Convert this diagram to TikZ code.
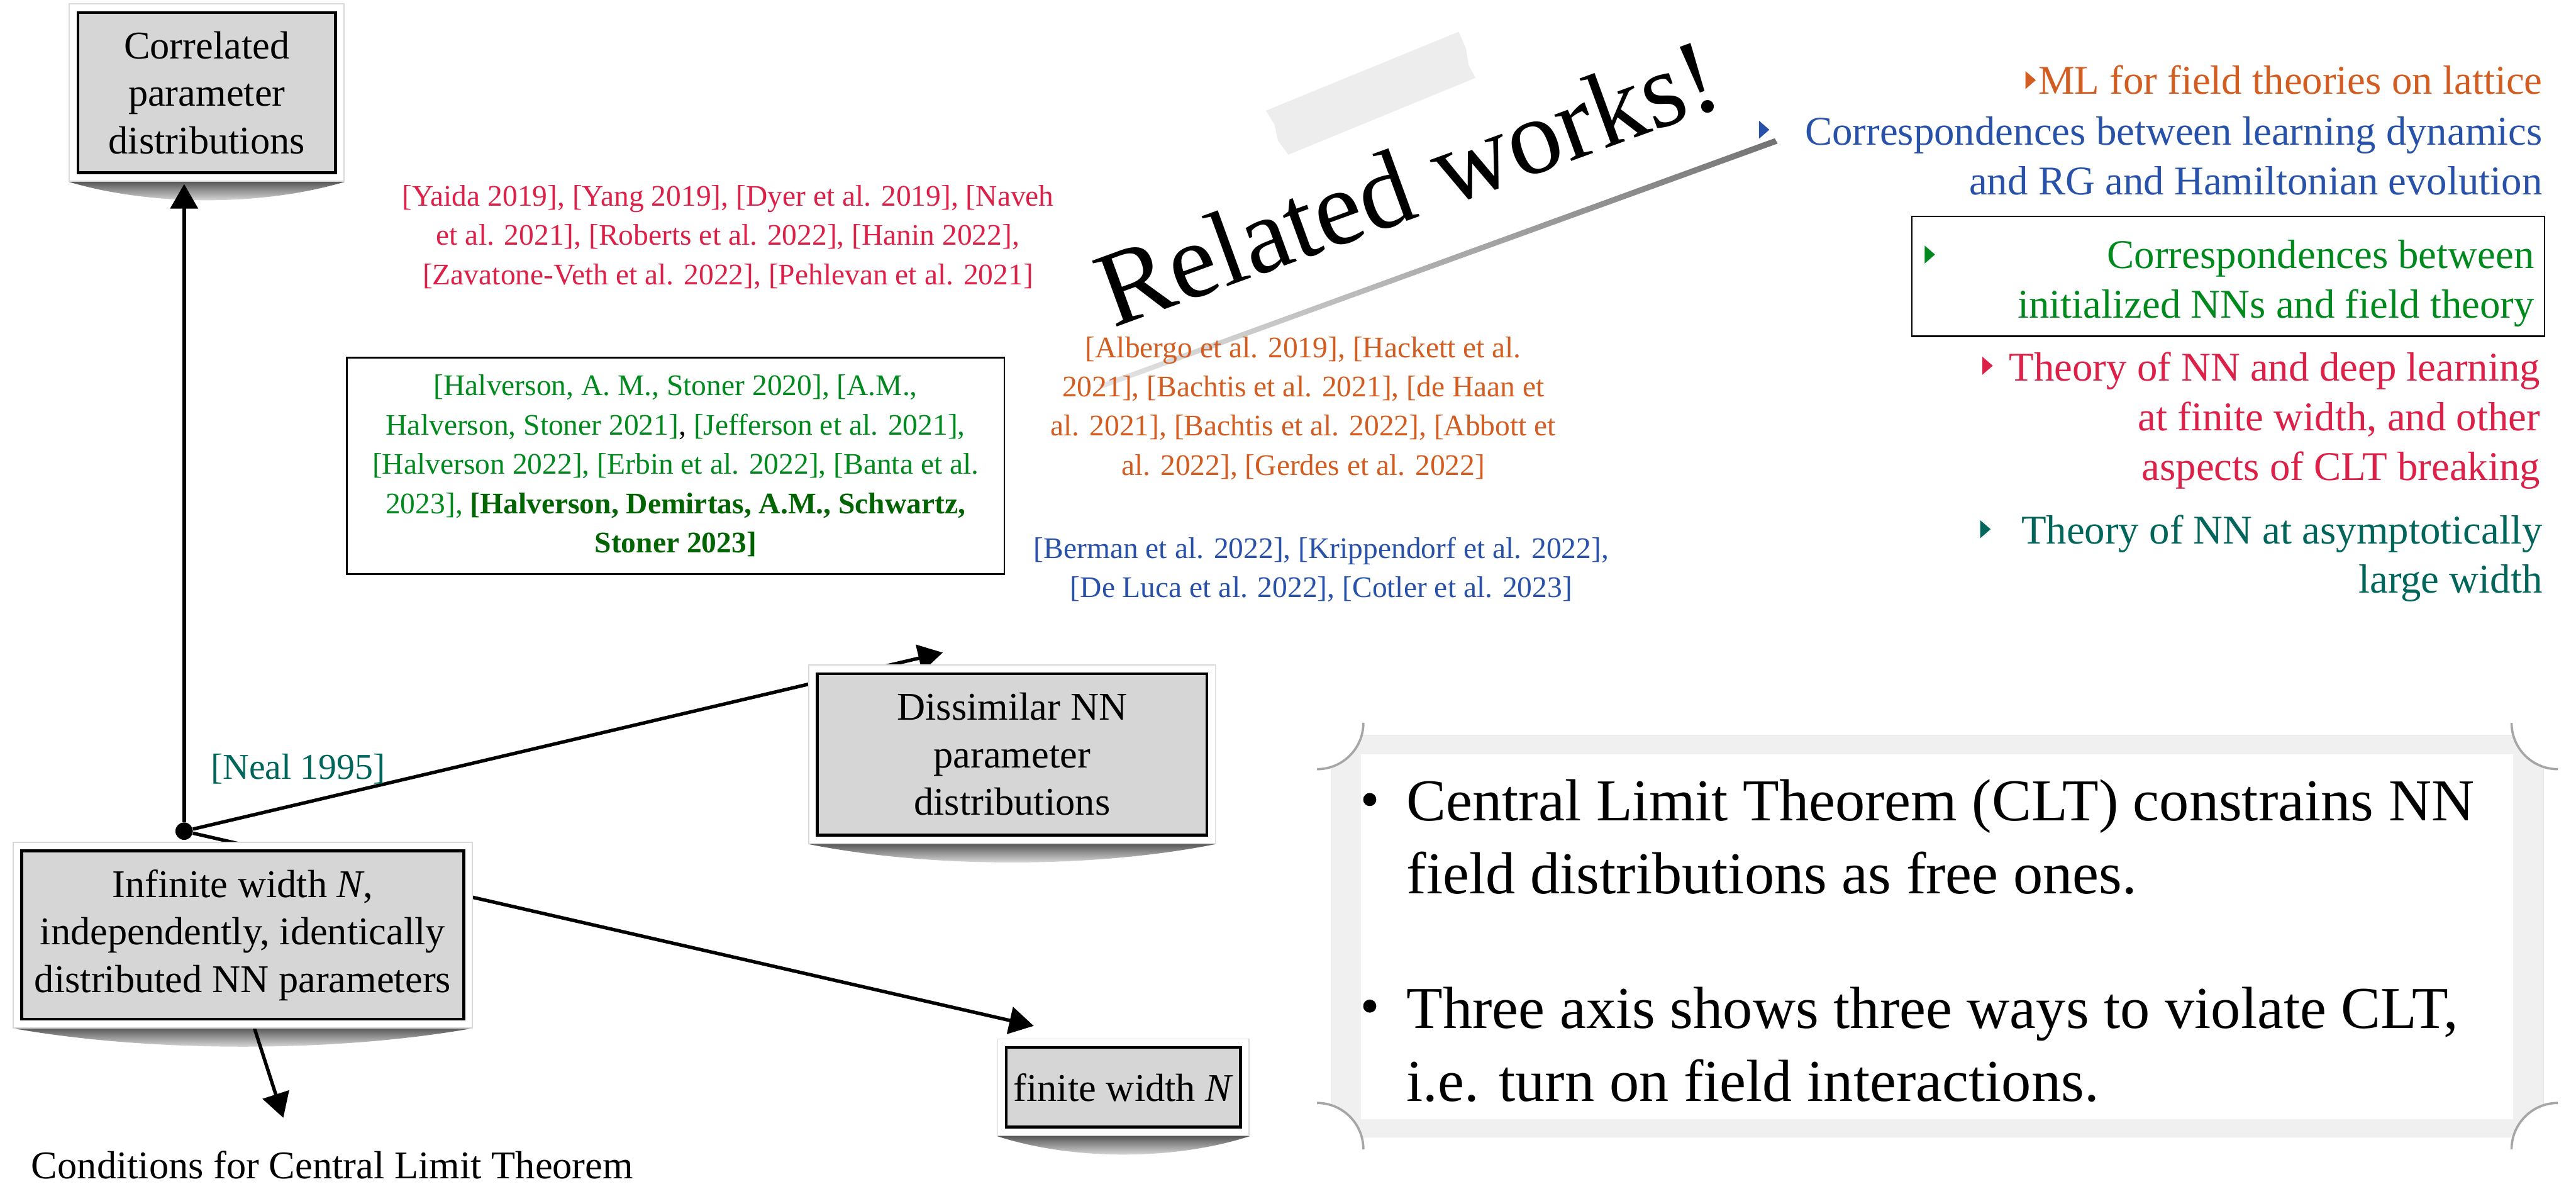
\documentclass[tikz,border=0pt]{standalone}
\usepackage{fontspec}
\setmainfont{Liberation Serif}
\usepackage{tikz}
\usetikzlibrary{arrows.meta,shapes.geometric,positioning,fit,calc}
\usepackage{xcolor}
\definecolor{rwred}{RGB}{221,32,72}
\definecolor{rworange}{RGB}{211,92,32}
\definecolor{rwblue}{RGB}{40,82,170}
\definecolor{rwgreen}{RGB}{0,138,30}
\definecolor{rwdkgreen}{RGB}{0,100,0}
\definecolor{rwteal}{RGB}{0,102,92}
\definecolor{cardgray}{RGB}{214,214,214}
\definecolor{notegray}{RGB}{240,240,240}
\newcommand\rwcard{\fontsize{20.5}{24.8}\selectfont}
\newcommand\rwcite{\fontsize{15.6}{20.5}\selectfont}
\newcommand\rwitem{\fontsize{21.3}{25.9}\selectfont}
\newcommand\rwnote{\fontsize{31}{38.1}\selectfont}
\newcommand\rwneal{\fontsize{19}{23}\selectfont}
\newcommand\rwbig{\fontsize{56}{60}\selectfont}
\tikzstyle{cardbox} = [rectangle, draw=black, line width=1.5pt, fill=cardgray, align=center, inner sep=0pt, font=\rwcard]
\tikzstyle{cardframe} = [rectangle, fill=white, draw=black!15, line width=0.6pt, inner sep=0.13cm]
\tikzstyle{sketch} = [line width=1.8pt, -{Triangle[length=0.45cm, width=0.5cm]}]
\tikzstyle{citeblock} = [align=center, inner sep=0pt, font=\rwcite]
\tikzstyle{listitem} = [align=right, inner sep=0pt, font=\rwitem, anchor=north east]
\tikzstyle{bulletmark} = [isosceles triangle, isosceles triangle stretches, minimum width=0.33cm, minimum height=0.19cm, inner sep=0pt]
\pgfdeclarelayer{shadow}
\pgfdeclarelayer{lines}
\pgfdeclarelayer{frame}
\pgfsetlayers{shadow,lines,frame,main}

\begin{document}
\begin{tikzpicture}
\path[use as bounding box] (0,0) rectangle (47.28,-21.81);
\begin{pgfonlayer}{shadow}
\fill[white] (0,0) rectangle (47.28,-21.81);
\end{pgfonlayer}

% Parameter cards
\node (corr) [cardbox, minimum width=4.73cm, minimum height=2.94cm] at (3.795,-1.70) {Correlated\\parameter\\distributions};
\node (dissim) [cardbox, minimum width=7.15cm, minimum height=2.96cm] at (18.575,-13.84) {Dissimilar NN\\parameter\\distributions};
\node (inf) [cardbox, minimum width=8.11cm, minimum height=3.09cm] at (4.455,-17.155) {Infinite width \textit{N},\\independently, identically\\distributed NN parameters};
\node (finite) [cardbox, minimum width=4.30cm, minimum height=1.46cm] at (20.62,-19.95) {finite width \textit{N}};

% white mounts and curled shadows
\foreach \c in {corr,dissim,inf,finite}{
  \begin{pgfonlayer}{frame}
    \node (\c-f) [cardframe, fit=(\c)] {};
  \end{pgfonlayer}
  \begin{pgfonlayer}{shadow}
    \shade[top color=black!65, bottom color=white] (\c-f.south west) .. controls ($(\c-f.south west)!0.3!(\c-f.south east)+(0,-0.45)$) and ($(\c-f.south west)!0.7!(\c-f.south east)+(0,-0.45)$) .. (\c-f.south east) -- cycle;
  \end{pgfonlayer}
}

% Conditions
\node (clt) [anchor=base west, inner sep=0pt, font=\rwcard] at (0.57,-21.63) {Conditions for Central Limit Theorem};
\coordinate (cltend) at (5.20,-20.51);

% Axes from the iid point
\begin{pgfonlayer}{lines}
\node (root) [circle, fill=black, inner sep=0pt, minimum size=0.32cm] at (3.38,-15.25) {};
\draw[sketch] (root) -- ($(root |- corr.south)+(0,-0.18)$);
\draw[sketch] (root) -- ([xshift=2.33cm, yshift=0.36cm]dissim.north west);
\draw[sketch] (root) -- ([xshift=0.53cm, yshift=0.37cm]finite.north west);
\draw[sketch] ([xshift=0.17cm]inf.south) -- (cltend);

% Related works label, taped on
\begin{scope}[shift={(20.43,-6.02)}, rotate=20]
\fill[white] (-0.66,-0.88) rectangle (12.6,2.4);
\shade[top color=black!55, bottom color=black!10] (-0.6,-0.88) -- (12.6,-0.88) -- (12.62,-0.99) -- (-0.58,-0.97) -- cycle;
\fill[black!7] (4.0,2.79) -- (4.06,2.5) -- (4.02,2.2) -- (4.11,1.89) -- (7.82,2.04) -- (7.78,2.3) -- (7.84,2.6) -- (7.82,2.94) -- cycle;
\end{scope}
\end{pgfonlayer}
\node (rw) [rotate=20, anchor=base west, inner sep=0pt, font=\rwbig] at (20.43,-6.02) {Related works!};

\node (neal) [anchor=base west, inner sep=0pt, font=\rwneal, text=rwteal] at (3.86,-14.30) {[Neal 1995]};

% Citation blocks
\node (finitecite) [citeblock, anchor=north, text=rwred] at (13.36,-3.39) {[Yaida 2019], [Yang 2019], [Dyer et al. 2019], [Naveh\\et al. 2021], [Roberts et al. 2022], [Hanin 2022],\\{}[Zavatone-Veth et al. 2022], [Pehlevan et al. 2021]};
\node (nnftcite) [citeblock, draw=black, line width=0.9pt, minimum width=12.07cm, minimum height=3.97cm, text=rwgreen] at (12.40,-8.545) {[Halverson, A. M., Stoner 2020], [A.M.,\\Halverson, Stoner 2021]{\color{black},} [Jefferson et al. 2021],\\{}[Halverson 2022], [Erbin et al. 2022], [Banta et al.\\2023], \textbf{\color{rwdkgreen}[Halverson, Demirtas, A.M., Schwartz,}\\\textbf{\color{rwdkgreen}Stoner 2023]}};
\node (latticecite) [citeblock, anchor=north, text=rworange] at (23.92,-6.17) {[Albergo et al. 2019], [Hackett et al.\\2021], [Bachtis et al. 2021], [de Haan et\\al. 2021], [Bachtis et al. 2022], [Abbott et\\al. 2022], [Gerdes et al. 2022]};
\node (dyncite) [citeblock, anchor=north, text=rwblue] at (24.25,-9.85) {[Berman et al. 2022], [Krippendorf et al. 2022],\\{}[De Luca et al. 2022], [Cotler et al. 2023]};

% Legend of the three axes
\node (rlbox) [draw=black, line width=0.8pt, minimum width=11.61cm, minimum height=2.2cm, inner sep=0pt] at (40.895,-5.07) {};
\node (ml) [listitem, anchor=base east, text=rworange] at (46.67,-1.73) {ML for field theories on lattice};
\node (dyn) [listitem, text=rwblue] at (46.67,-2.13) {Correspondences between learning dynamics\\and RG and Hamiltonian evolution};
\node (nnft) [listitem, text=rwgreen] at (46.52,-4.40) {Correspondences between\\initialized NNs and field theory};
\node (fw) [listitem, text=rwred] at (46.63,-6.46) {Theory of NN and deep learning\\at finite width, and other\\aspects of CLT breaking};
\node (lw) [listitem, text=rwteal] at (46.67,-9.44) {Theory of NN at asymptotically\\large width};
\node [bulletmark, fill=rworange] at (37.25,-1.47) {};
\node [bulletmark, fill=rwblue] at (32.36,-2.38) {};
\node [bulletmark, fill=rwgreen] at (35.40,-4.67) {};
\node [bulletmark, fill=rwred] at (36.46,-6.71) {};
\node [bulletmark, fill=rwteal] at (36.42,-9.71) {};

% CLT note
\node (note) [fill=notegray, draw=black!10, minimum width=22.24cm, minimum height=7.37cm] at (35.56,-17.175) {};
\node (paper) [fill=white, minimum width=21.14cm, minimum height=6.70cm] at (35.55,-17.19) {};
\foreach \corner/\sx/\sy/\a in {north west/-1/1/-90, north east/1/1/180, south west/-1/-1/0, south east/1/-1/90}{
  \fill[white] ($(note.\corner)+(\sx*0.26,\sy*0.22)$) circle (0.85);
  \draw[black!35, line width=1.2pt] ($(note.\corner)+(\sx*0.26,\sy*0.22)$) ++(\a:0.85) arc[start angle=\a, delta angle=90, radius=0.85];
}
\node (b1) [circle, fill=black, inner sep=0pt, minimum size=0.24cm] at (25.14,-14.67) {};
\node (b2) [circle, fill=black, inner sep=0pt, minimum size=0.24cm] at (25.14,-18.46) {};
\node (t1) [anchor=north west, align=left, inner sep=0pt, font=\rwnote] at (25.81,-14.30) {Central Limit Theorem (CLT) constrains NN\\field distributions as free ones.};
\node (t2) [anchor=north west, align=left, inner sep=0pt, font=\rwnote] at (25.81,-18.10) {Three axis shows three ways to violate CLT,\\i.e. turn on field interactions.};

\end{tikzpicture}
\end{document}
